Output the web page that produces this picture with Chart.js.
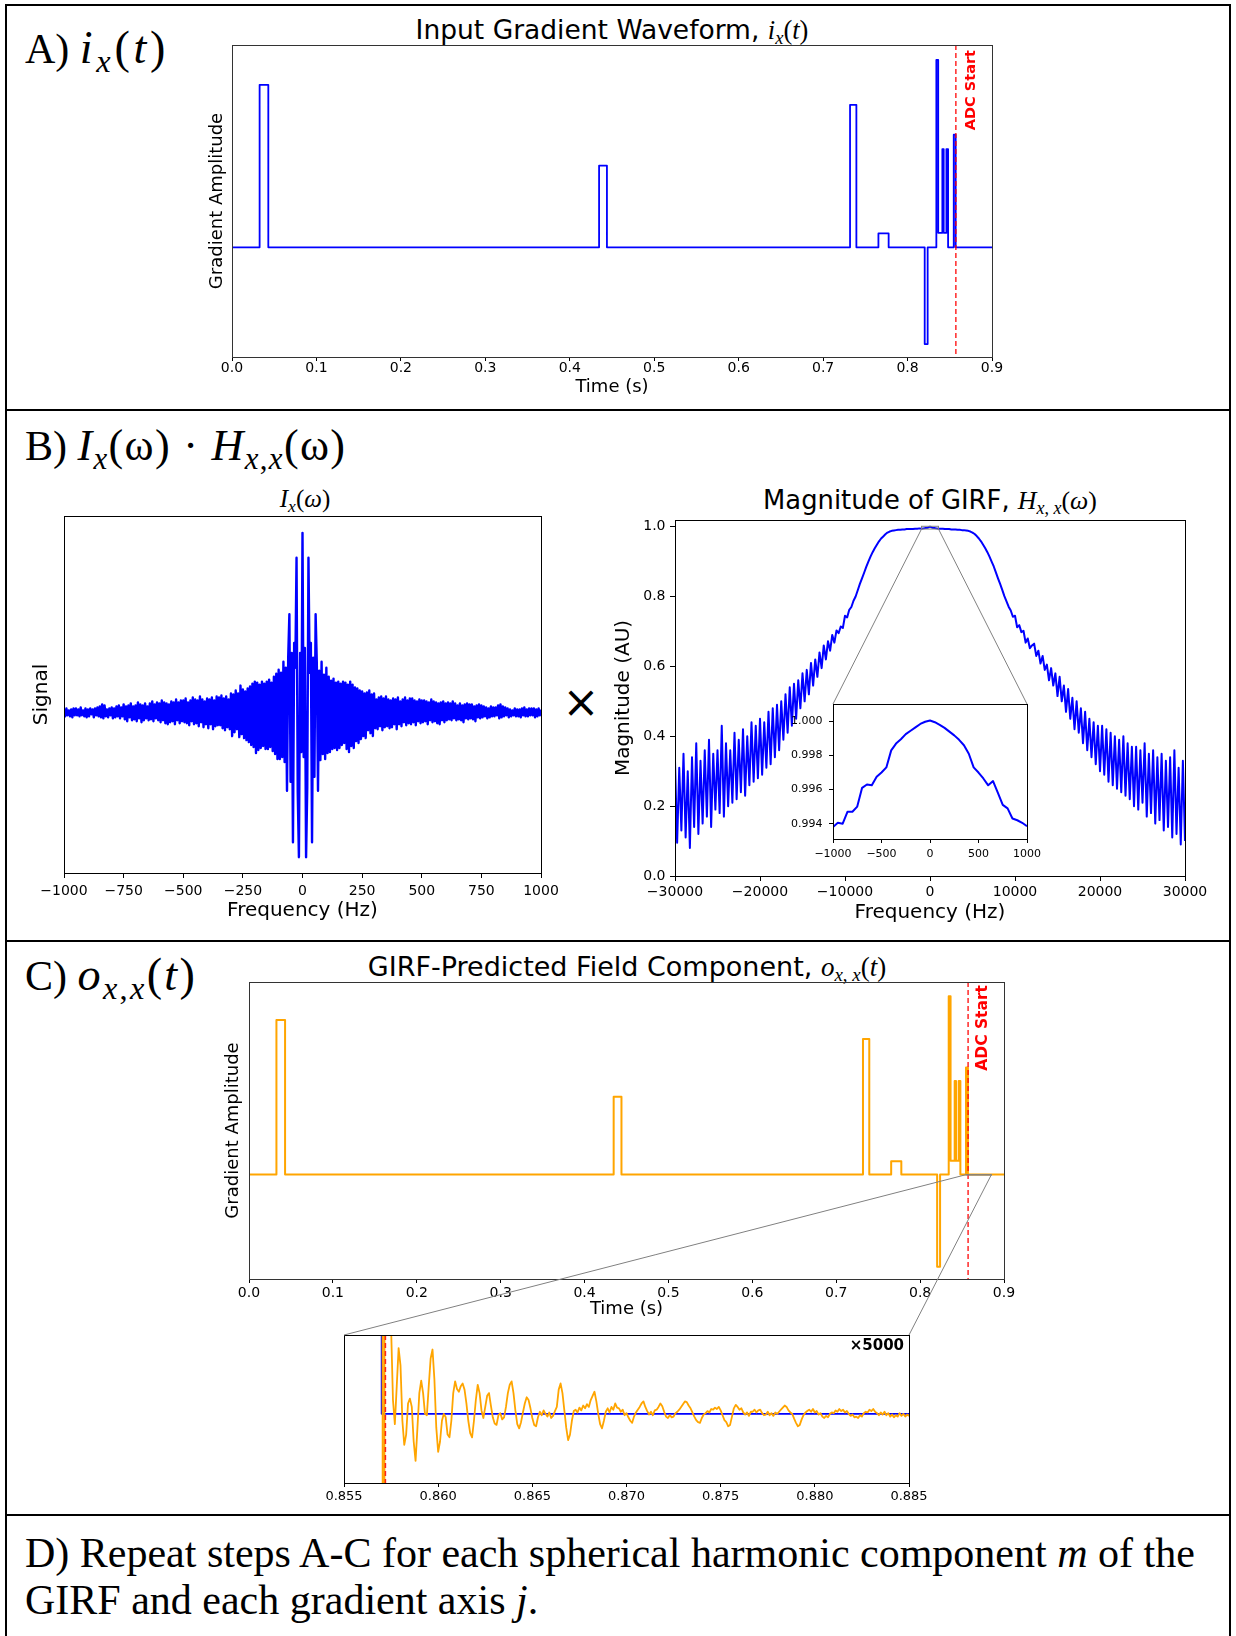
<!DOCTYPE html>
<html>
<head>
<meta charset="utf-8">
<script src="https://cdn.jsdelivr.net/npm/chart.js@4.4.1/dist/chart.umd.min.js"></script>
<style>
  html, body { margin: 0; padding: 0; background: #fff; overflow: hidden; }
  #page { position: relative; width: 1236px; height: 1636px; overflow: hidden; background: #fff; }
  canvas { position: absolute; }
  .rule { position: absolute; background: #000; }
  .lbl { position: absolute; font-family: "Liberation Serif", serif; font-size: 42px; line-height: 1; white-space: nowrap; color: #000; }
  .ttl { position: absolute; font-family: "DejaVu Sans", sans-serif; line-height: 1; white-space: nowrap; color: #000; transform: translateX(-50%); }
  .m { font-family: "Liberation Serif", serif; }
  .sub { font-size: 70%; vertical-align: -0.28em; line-height: 0; }
  #times { position: absolute; left: 581px; top: 702px; transform: translate(-50%, -50%); font-family: "DejaVu Sans", sans-serif; font-size: 44px; line-height: 1; }
  #note { position: absolute; left: 25px; top: 1530px; font-family: "Liberation Serif", serif; font-size: 42px; line-height: 47px; white-space: nowrap; }
  #overlay { position: absolute; left: 0; top: 0; z-index: 5; pointer-events: none; }
</style>
</head>
<body>
<div id="page">
  <!-- panel frames -->
  <div class="rule" style="left:5px; top:4px; width:1226px; height:2px;"></div>
  <div class="rule" style="left:5px; top:4px; width:2px; height:1640px;"></div>
  <div class="rule" style="left:1229px; top:4px; width:2px; height:1640px;"></div>
  <div class="rule" style="left:5px; top:409px; width:1226px; height:2px;"></div>
  <div class="rule" style="left:5px; top:940px; width:1226px; height:2px;"></div>
  <div class="rule" style="left:5px; top:1514px; width:1226px; height:2px;"></div>

  <div class="lbl" style="left:25px; top:25px;">A) <span style="font-size:1.1em; letter-spacing:0.08em;"><i>i</i><span class="sub"><i>x</i></span>(<i>t</i>)</span></div>
  <div class="lbl" style="left:25px; top:424px;">B) <span style="font-size:1.05em; letter-spacing:0.03em;"><i>I</i><span class="sub"><i>x</i></span>(ω) · <i>H</i><span class="sub"><i>x</i>,<i>x</i></span>(ω)</span></div>
  <div class="lbl" style="left:25px; top:952px;">C) <span style="font-size:1.1em; letter-spacing:0.05em;"><i>o</i><span class="sub"><i>x</i>,<i>x</i></span>(<i>t</i>)</span></div>

  <div class="ttl" style="left:612px; top:17px; font-size:26.5px;">Input Gradient Waveform, <span class="m"><i>i</i><span class="sub"><i>x</i></span>(<i>t</i>)</span></div>
  <div class="ttl m" style="left:305px; top:486px; font-size:25px; font-family:'Liberation Serif', serif;"><i>I</i><span class="sub"><i>x</i></span>(<i>ω</i>)</div>
  <div class="ttl" style="left:930px; top:488px; font-size:25.8px;">Magnitude of GIRF, <span class="m"><i>H</i><span class="sub"><i>x</i>, <i>x</i></span>(<i>ω</i>)</span></div>
  <div class="ttl" style="left:627px; top:953px; font-size:27px;">GIRF-Predicted Field Component, <span class="m"><i>o</i><span class="sub"><i>x</i>, <i>x</i></span>(<i>t</i>)</span></div>

  <div id="times">×</div>

  <canvas id="cA"></canvas>
  <canvas id="cBL"></canvas>
  <canvas id="cBR"></canvas>
  <canvas id="cBI"></canvas>
  <canvas id="cC"></canvas>
  <canvas id="cCI"></canvas>
  <canvas id="overlay" width="1236" height="1636"></canvas>

  <div id="note">D) Repeat steps A-C for each spherical harmonic component <i>m</i> of the<br>GIRF and each gradient axis <i>j</i>.</div>
</div>

<script>
// ---------------- data ----------------
const adcStart = 0.8572;

// gradient waveform corners: time (s) and amplitude
const gradTime = [0, 0.0327, 0.0327, 0.0430, 0.0430, 0.4347, 0.4347, 0.4440, 0.4440,
  0.7319, 0.7319, 0.7394, 0.7394, 0.7655, 0.7655, 0.7776, 0.7776, 0.8203, 0.8203, 0.8238, 0.8238,
  0.8341, 0.8341, 0.8363, 0.8363, 0.8412, 0.8412, 0.8428, 0.8428, 0.8460, 0.8460, 0.8480, 0.8480,
  0.8547, 0.8547, 0.8570, 0.8570, 0.9];
const gradAmp = [0, 0, 16.3, 16.3, 0, 0, 8.2, 8.2, 0,
  0, 14.3, 14.3, 0, 0, 1.4, 1.4, 0, 0, -9.7, -9.7, 0,
  0, 18.8, 18.8, 1.46, 1.46, 9.86, 9.86, 1.46, 1.46, 9.86, 9.86, 0,
  0, 11.3, 11.3, 0, 0];
const timeTicks = [0, 0.1, 0.2, 0.3, 0.4, 0.5, 0.6, 0.7, 0.8, 0.9];

// input spectrum, sampled every 5 Hz from -1000 Hz
const specStartHz = -1000;
const specStepHz = 5;
const spectrumSignal = [
  3,-4,4,-3,2,-4,3,-5,4,-3, 4,-3,3,-4,5,-3,2,-4,4,-5,
  3,-4,4,-2,3,-5,4,-3,5,-4, 6,-5,8,-6,7,-4,3,-5,4,-3,
  5,-6,4,-5,6,-4,7,-6,5,-4, 8,-7,6,-9,7,-5,9,-8,6,-7,
  7,-9,10,-6,8,-10,7,-8,9,-6, 6,-8,9,-7,11,-9,8,-6,10,-8,
  9,-10,12,-8,10,-11,9,-12,8,-10, 11,-9,10,-12,13,-8,10,-11,12,-9,
  12,-10,14,-11,10,-13,12,-9,15,-12, 13,-11,12,-14,16,-10,13,-15,11,-12,
  14,-16,13,-12,15,-17,12,-14,16,-13, 15,-13,17,-16,14,-18,16,-15,13,-17,
  19,-24,18,-20,22,-17,19,-25,27,-22, 23,-26,21,-28,24,-30,26,-33,29,-35,
  31,-41,30,-38,28,-36,31,-34,29,-37, 31,-37,33,-35,30,-39,36,-42,39,-47,
  43,-47,40,-45,51,-50,45,-79,55,99, -70,60,-131,70,45,156,-80,-146,60,-40,
  181,
  -45,65,-146,-75,156,40,70,-131,55,-65, 99,50,-79,42,-48,51,-42,38,-47,45,
  -41,36,-40,32,-37,34,-36,30,-38,31, -36,29,-33,31,-31,30,-37,28,-40,31,
  -34,28,-36,25,-29,24,-31,22,-27,21, -24,19,-26,20,-18,22,-21,18,-24,19,
  -16,13,-17,15,-14,16,-18,14,-15,16, -14,13,-16,12,-15,14,-12,13,-17,15,
  -12,11,-14,13,-10,15,-13,12,-11,14, -12,14,-10,12,-13,11,-9,13,-11,12,
  -10,12,-9,11,-12,10,-8,13,-10,11, -9,10,-11,9,-12,10,-8,11,-10,9,
  -8,10,-7,9,-8,11,-6,9,-8,7, -7,9,-8,7,-10,8,-6,9,-7,8,
  -6,8,-7,6,-9,7,-5,8,-6,7, -5,6,-4,5,-6,4,-5,6,-4,5,
  -4,5,-3,7,-6,8,-5,6,-4,5, -3,4,-5,3,-4,2,-3,4,-4,3,
  -4,3,-5,4,-3,5,-4,3,-4,4, -3,4,-3,4,-5,3,-4,4,-3,3
];
const specTicks = [-1000, -750, -500, -250, 0, 250, 500, 750, 1000];

// GIRF magnitude (x 1/1000), every 250 Hz from -30 kHz
const girfStartHz = -30000;
const girfStepHz = 250;
const girfMagMilli = [
  330,95,310,130, 350,110,300,80, 340,140,380,120, 330,150,360,170, 390,140,350,190,
  360,180,430,170, 380,200,360,210, 410,220,390,240, 420,230,400,260, 440,270,430,280,
  450,290,440,310, 470,320,480,340, 490,360,500,390, 520,410,540,430, 550,450,560,480,
  580,500,590,520, 610,545,620,570, 640,595,660,620, 672,645,690,668, 703,695,714,710,
  745,740,762,770, 788,800,818,836, 852,868,885,900, 914,927,938,948, 958,966,972,978,
  983,986,988,989, 990,991,991,992, 992,993,993,993, 993,994,994,995, 994,995,996,997,
  1000,
  997,996,995,994, 994,994,993,993, 993,992,992,992, 991,991,990,990, 989,988,986,983,
  979,973,966,958, 948,938,927,914, 900,886,869,852, 836,819,801,786, 771,760,742,745,
  712,718,698,702, 668,680,652,660, 665,630,645,608, 630,590,605,560, 595,545,580,515,
  570,500,545,470, 535,450,510,420, 500,410,480,380, 470,360,450,340, 440,320,430,300,
  430,290,420,270, 410,260,400,250, 390,240,400,230, 380,220,370,200, 370,190,360,210,
  380,170,350,180, 360,150,340,160, 350,130,330,140, 340,110,360,120, 310,90,330,100
];
const girfTicks = [-30000, -20000, -10000, 0, 10000, 20000, 30000];
const magTicks = [0, 0.2, 0.4, 0.6, 0.8, 1.0];

// GIRF magnitude near DC, every 50 Hz from -1000 Hz
const zoomStartHz = -1000;
const zoomStepHz = 50;
const girfZoomMag = [
  0.99380, 0.99405, 0.99400, 0.99470, 0.99470, 0.99500, 0.99610, 0.99630, 0.99625, 0.99675,
  0.99700, 0.99730, 0.99830, 0.99870, 0.99895, 0.99925, 0.99945, 0.99965, 0.99985, 0.99998,
  1.00005,
  0.99995, 0.99980, 0.99962, 0.99940, 0.99918, 0.99892, 0.99860, 0.99810, 0.99730, 0.99700,
  0.99665, 0.99625, 0.99650, 0.99580, 0.99510, 0.99490, 0.99430, 0.99420, 0.99405, 0.99385
];
const zoomHzRange = [-1000, 1000];
const zoomMagRange = [0.9931, 1.00102];
const zoomHzTicks = [-1000, -500, 0, 500, 1000];
const zoomMagTicks = [0.994, 0.996, 0.998, 1.000];

// predicted field after the last lobe, magnified x5000, every 0.1 ms from 0.8570 s
const ringGain = 5000;
const ringStart = 0.8570;
const ringStep = 0.0001;
const ringX5000 = [
  40,-40,40,12,3,1.25,0.2,-0.15,0.4,0.95, 0.7,-0.1,-0.45,-0.3,0.15,0.22,0.1,-0.4,-0.68,-0.2,
  0.3,0.48,0.3,0,-0.02,0.4,0.8,0.93,0.5,-0.2, -0.55,-0.4,-0.1,0,-0.05,-0.3,-0.34,-0.1,0.3,0.47,
  0.36,0.32,0.4,0.44,0.35,0.15,-0.1,-0.28,-0.34,-0.1, 0.2,0.42,0.3,0.05,-0.06,0.1,0.26,0.3,0.12,-0.05,
  -0.14,-0.16,-0.02,0.01,-0.08,-0.05,0.1,0.3,0.42,0.47, 0.3,0.05,-0.15,-0.21,-0.12,0.02,0.15,0.24,0.2,0.08,
  -0.06,-0.16,-0.18,-0.05,0.03,-0.02,0.05,0,-0.04,0.02, -0.06,-0.03,0.04,0.1,0.35,0.44,0.3,0.05,-0.2,-0.38,
  -0.3,-0.1,0.04,0.06,0.02,0.09,0.05,0.12,0.08,0.14, 0.1,0.2,0.26,0.32,0.18,0,-0.15,-0.21,-0.1,0.03,
  0.08,0.02,0.1,0.06,0.15,0.09,0.08,0.03,0.06,-0.02, 0.01,-0.05,-0.1,-0.13,-0.04,0.02,0.06,0.1,0.15,0.18,
  0.1,0.04,-0.01,0.03,-0.02,0.05,0.06,0.1,0.15,0.11, 0.03,-0.04,-0.06,-0.02,-0.05,-0.04,0.01,0.03,0.06,0.1,
  0.14,0.18,0.17,0.12,0.08,0.02,-0.04,-0.09,-0.12,-0.13, -0.06,-0.01,0.01,0.04,0.02,0.07,0.06,0.09,0.07,0.1,
  0.05,-0.02,-0.09,-0.12,-0.18,-0.16,-0.04,0.08,0.13,0.1, 0.06,0.08,0.02,-0.01,0.02,-0.03,0.03,0.03,0.06,0.02,
  0.05,0.06,0.01,-0.02,-0.01,0.03,-0.02,0.01,-0.03,0.02, 0,0.03,0.06,0.09,0.12,0.1,0.05,0.02,0,-0.07,
  -0.13,-0.18,-0.16,-0.08,-0.02,0.02,0.04,0.06,0.03,0.07, 0.02,0.04,-0.01,0.01,-0.04,-0.06,-0.03,-0.05,0,0.02,
  0.01,0.05,0.03,0.07,0.04,0.06,0.02,0.04,0,-0.03, -0.01,-0.05,-0.04,-0.06,-0.02,-0.04,0.01,0.03,0.02,0.06,
  0.04,0.07,0.03,0.01,-0.02,0.02,-0.01,0.03,-0.02,0.01, -0.04,-0.01,-0.05,-0.02,-0.04,0.01,-0.03,0,-0.04,-0.01,
  -0.03
];
const ringWindow = [0.855, 0.885];
const ringRange = [-1.0, 1.14];
const ringTicks = [0.855, 0.860, 0.865, 0.870, 0.875, 0.880, 0.885];

// ---------------- helpers ----------------
Chart.defaults.font.family = '"DejaVu Sans", sans-serif';
Chart.defaults.color = '#000';
Chart.defaults.animation = false;
Chart.defaults.events = [];
Chart.defaults.plugins.legend.display = false;
Chart.defaults.plugins.tooltip.enabled = false;

const BLUE = '#0000ff';
const ORANGE = '#ffa500';
const RED = 'rgba(255,0,0,0.85)';

const minus = v => (v < 0 ? '\u2212' + Math.abs(v) : String(v));
const pairs = (xs, ys, k = 1) => xs.map((x, i) => ({ x, y: ys[i] * k }));
const sampled = (start, step, ys, k = 1) => ys.map((y, i) => ({ x: start + i * step, y: y * k }));

function line(data, color, width, order = 0) {
  return { data, borderColor: color, borderWidth: width, pointRadius: 0, tension: 0, order,
           fill: false, borderJoinStyle: 'round', borderCapStyle: 'butt' };
}

function hAxis(min, max, o) {
  return {
    type: 'linear', min, max, bounds: 'data',
    afterBuildTicks: s => { s.ticks = o.ticks.map(value => ({ value })); },
    afterFit: s => { s.height = o.h; s.paddingLeft = 0; s.paddingRight = 0; },
    grid: { drawOnChartArea: false, drawTicks: true, tickLength: o.tick, color: '#000' },
    border: { display: false },
    ticks: { callback: o.fmt, padding: o.pad, maxRotation: 0, autoSkip: false,
             font: { size: o.size, lineHeight: 1 } },
    title: o.title ? { display: true, text: o.title, padding: 0, font: { size: o.titleSize } } : { display: false }
  };
}

function vAxis(min, max, o) {
  const axis = {
    type: 'linear', min, max, bounds: 'data',
    afterFit: s => { s.width = o.w; s.paddingTop = 0; s.paddingBottom = 0; },
    border: { display: false },
    title: o.title ? { display: true, text: o.title, padding: 0, font: { size: o.titleSize } } : { display: false }
  };
  if (o.ticks) {
    axis.afterBuildTicks = s => { s.ticks = o.ticks.map(value => ({ value })); };
    axis.grid = { drawOnChartArea: false, drawTicks: true, tickLength: o.tick, color: '#000' };
    axis.ticks = { callback: o.fmt, padding: o.pad, autoSkip: false, font: { size: o.size, lineHeight: 1 } };
  } else {
    axis.grid = { display: false };
    axis.ticks = { display: false };
  }
  return axis;
}

// frame, acquisition marker, zoom box and gain note
const figureMarks = {
  id: 'figureMarks',
  afterDatasetsDraw(chart, args, opts) {
    const { ctx, chartArea: a, scales: { x, y } } = chart;
    ctx.save();
    if (opts.adc !== undefined) {
      const px = x.getPixelForValue(opts.adc);
      ctx.strokeStyle = RED;
      ctx.lineWidth = 1.5;
      ctx.setLineDash([5, 3]);
      ctx.beginPath(); ctx.moveTo(px, a.top); ctx.lineTo(px, a.bottom); ctx.stroke();
      ctx.setLineDash([]);
      if (opts.adcText) {
        ctx.translate(px + opts.adcText.dx, a.top + opts.adcText.dy);
        ctx.rotate(-Math.PI / 2);
        ctx.fillStyle = 'red';
        ctx.font = `bold ${opts.adcText.size}px "DejaVu Sans"`;
        ctx.textAlign = 'right';
        ctx.textBaseline = 'middle';
        ctx.fillText('ADC Start', 0, 0);
        ctx.setTransform(1, 0, 0, 1, 0, 0);
      }
    }
    if (opts.box) {
      const x0 = x.getPixelForValue(opts.box.x[0]), x1 = x.getPixelForValue(opts.box.x[1]);
      const y0 = y.getPixelForValue(opts.box.y[1]), y1 = y.getPixelForValue(opts.box.y[0]);
      ctx.strokeStyle = '#808080';
      ctx.lineWidth = 1;
      ctx.strokeRect(x0, y0, x1 - x0, Math.max(y1 - y0, 0.5));
    }
    if (opts.gain) {
      ctx.fillStyle = '#000';
      ctx.font = 'bold 15px "DejaVu Sans"';
      ctx.textAlign = 'right';
      ctx.textBaseline = 'middle';
      ctx.fillText(opts.gain, a.right - 5, a.top + 11);
    }
    ctx.restore();
  },
  afterDraw(chart, args, opts) {
    const { ctx, chartArea: a } = chart;
    ctx.save();
    ctx.strokeStyle = opts.frame || '#000';
    ctx.lineWidth = 1;
    ctx.strokeRect(Math.round(a.left) + 0.5, Math.round(a.top) + 0.5,
                   Math.round(a.right - a.left), Math.round(a.bottom - a.top));
    ctx.restore();
  }
};

function makeChart(id, rect, pad, datasets, scales, marks) {
  const cv = document.getElementById(id);
  const [L, T, R, B] = rect;
  cv.width = R - L + pad.l + pad.r;
  cv.height = B - T + pad.t + pad.b;
  cv.style.left = (L - pad.l) + 'px';
  cv.style.top = (T - pad.t) + 'px';
  return new Chart(cv, {
    type: 'line',
    data: { datasets },
    options: {
      responsive: false,
      parsing: false,
      layout: { padding: { left: 0, top: pad.t, right: pad.r, bottom: 0 } },
      scales,
      plugins: { figureMarks: marks }
    },
    plugins: [figureMarks]
  });
}

const fmt1 = v => v.toFixed(1);
const fmt3 = v => v.toFixed(3);

// ---------------- A: input waveform ----------------
const chartA = makeChart('cA', [232, 45, 992, 357], { l: 25, t: 12, r: 40, b: 41 },
  [line(pairs(gradTime, gradAmp), BLUE, 1.8)],
  {
    x: hAxis(0, 0.9, { ticks: timeTicks, fmt: fmt1, h: 41, tick: 4, pad: 0, size: 14, title: 'Time (s)', titleSize: 18 }),
    y: vAxis(-11.0, 20.3, { w: 25, title: 'Gradient Amplitude', titleSize: 18 })
  },
  { frame: '#333', adc: adcStart, adcText: { dx: 15, dy: 5, size: 14.5 } });

// ---------------- B: spectrum and GIRF ----------------
const chartBL = makeChart('cBL', [64, 516, 541, 873], { l: 34, t: 10, r: 30, b: 50 },
  [line(sampled(specStartHz, specStepHz, spectrumSignal), BLUE, 2.4)],
  {
    x: hAxis(-1000, 1000, { ticks: specTicks, fmt: minus, h: 50, tick: 5, pad: 6, size: 14, title: 'Frequency (Hz)', titleSize: 20 }),
    y: vAxis(-162, 198, { w: 34, title: 'Signal', titleSize: 20 })
  },
  { frame: '#000' });

const chartBR = makeChart('cBR', [675, 520, 1185, 876], { l: 63, t: 10, r: 40, b: 49 },
  [line(sampled(girfStartHz, girfStepHz, girfMagMilli, 0.001), BLUE, 2)],
  {
    x: hAxis(-30000, 30000, { ticks: girfTicks, fmt: minus, h: 49, tick: 5, pad: 4, size: 14, title: 'Frequency (Hz)', titleSize: 20 }),
    y: vAxis(0, 1.019, { w: 63, ticks: magTicks, fmt: fmt1, tick: 5, pad: 4.5, size: 14, title: 'Magnitude (AU)', titleSize: 20 })
  },
  { frame: '#000', box: { x: zoomHzRange, y: zoomMagRange } });

const chartBI = makeChart('cBI', [833, 704, 1027, 839], { l: 55, t: 5, r: 25, b: 25 },
  [line(sampled(zoomStartHz, zoomStepHz, girfZoomMag), BLUE, 2)],
  {
    x: hAxis(zoomHzRange[0], zoomHzRange[1], { ticks: zoomHzTicks, fmt: minus, h: 25, tick: 4, pad: 6, size: 11 }),
    y: vAxis(zoomMagRange[0], zoomMagRange[1], { w: 55, ticks: zoomMagTicks, fmt: fmt3, tick: 4, pad: 6.5, size: 11 })
  },
  { frame: '#000' });

// ---------------- C: predicted field ----------------
const chartC = makeChart('cC', [249, 982, 1004, 1279], { l: 26, t: 12, r: 40, b: 41 },
  [line(pairs(gradTime, gradAmp), ORANGE, 2)],
  {
    x: hAxis(0, 0.9, { ticks: timeTicks, fmt: fmt1, h: 41, tick: 4, pad: 3, size: 14, title: 'Time (s)', titleSize: 18 }),
    y: vAxis(-11.0, 20.3, { w: 26, title: 'Gradient Amplitude', titleSize: 18 })
  },
  { frame: '#333', adc: adcStart, adcText: { dx: 14.5, dy: 3, size: 15.5 },
    box: { x: ringWindow, y: [ringRange[0] / ringGain, ringRange[1] / ringGain] } });

const chartCI = makeChart('cCI', [344, 1335, 909, 1483], { l: 25, t: 5, r: 25, b: 25 },
  [line(sampled(ringStart, ringStep, ringX5000), ORANGE, 1.8, 0),
   line(pairs(gradTime, gradAmp, ringGain), BLUE, 1.8, 1)],
  {
    x: hAxis(ringWindow[0], ringWindow[1], { ticks: ringTicks, fmt: fmt3, h: 25, tick: 4, pad: 3.5, size: 13 }),
    y: vAxis(ringRange[0], ringRange[1], { w: 25 })
  },
  { frame: '#000', adc: adcStart, gain: '\u00d75000' });

// ---------------- zoom connectors ----------------
function pageXY(chart, xv, yv) {
  const c = chart.canvas;
  return [c.offsetLeft + chart.scales.x.getPixelForValue(xv), c.offsetTop + chart.scales.y.getPixelForValue(yv)];
}
function insetCorner(chart, side) {
  const c = chart.canvas, a = chart.chartArea;
  return [c.offsetLeft + (side === 'left' ? a.left : a.right), c.offsetTop + a.top];
}
const ov = document.getElementById('overlay').getContext('2d');
ov.strokeStyle = '#808080';
ov.lineWidth = 1;
function connect(p, q) {
  ov.beginPath(); ov.moveTo(p[0], p[1]); ov.lineTo(q[0], q[1]); ov.stroke();
}
connect(pageXY(chartBR, zoomHzRange[0], zoomMagRange[0]), insetCorner(chartBI, 'left'));
connect(pageXY(chartBR, zoomHzRange[1], zoomMagRange[0]), insetCorner(chartBI, 'right'));
connect(pageXY(chartC, ringWindow[0], ringRange[0] / ringGain), insetCorner(chartCI, 'left'));
connect(pageXY(chartC, ringWindow[1], ringRange[0] / ringGain), insetCorner(chartCI, 'right'));
</script>
</body>
</html>
